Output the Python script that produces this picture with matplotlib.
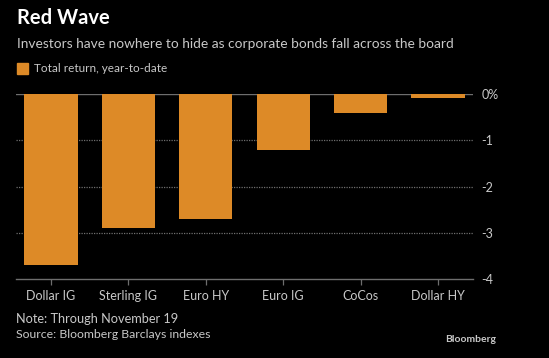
import matplotlib
matplotlib.use("Agg")
import matplotlib.pyplot as plt

categories = ["Dollar IG", "Sterling IG", "Euro HY", "Euro IG", "CoCos", "Dollar HY"]
returns = [-3.69, -2.89, -2.71, -1.22, -0.41, -0.08]
yticks = [0, -1, -2, -3, -4]
ytick_labels = ["0%", "-1", "-2", "-3", "-4"]

BG = "#000000"
BAR = "#DD8A27"
TXT = "#C8C8C8"
GRID = "#6E6E6E"

plt.rcParams['font.family'] = ['Lato', 'DejaVu Sans']

fig = plt.figure(figsize=(5.49, 3.58), dpi=100, facecolor=BG)
W, H = 549, 358
ax = fig.add_axes([16 / W, 1 - 279 / H, (473 - 16) / W, (279 - 94) / H], facecolor=BG)

x = range(len(categories))
ax.bar(x, returns, width=0.69, color=BAR, zorder=3)
ax.set_xlim(-0.45, 5.45)
ax.set_ylim(-4, 0)

for y in [-1, -2, -3]:
    ax.axhline(y, color=GRID, lw=0.9, ls=(0, (1, 1)), zorder=1)
ax.axhline(0, color=GRID, lw=1.0, zorder=2)

for s in ["top", "left", "right"]:
    ax.spines[s].set_visible(False)
ax.spines["bottom"].set_color(GRID)
ax.spines["bottom"].set_linewidth(1.0)

ax.yaxis.tick_right()
ax.set_yticks(yticks)
ax.set_yticklabels(ytick_labels)
ax.tick_params(axis="y", length=0, pad=6, colors=TXT, labelsize=9)
ax.set_xticks(list(x))
ax.set_xticklabels(categories)
ax.tick_params(axis="x", length=4, width=0.9, color=GRID, colors=TXT, labelsize=9, pad=4)
for lab in ax.get_xticklabels():
    lab.set_color(TXT)

fig.text(17 / W, 1 - 18 / H, "Red Wave", color="white", fontsize=14.5, fontweight="bold", va="center", ha="left")
fig.text(17 / W, 1 - 44 / H, "Investors have nowhere to hide as corporate bonds fall across the board",
         color=TXT, fontsize=9.9, va="center", ha="left")
fig.patches.append(plt.Rectangle((17 / W, 1 - 74 / H), 11 / W, 11 / H, transform=fig.transFigure,
                                 color=BAR, figure=fig))
fig.text(34 / W, 1 - 68 / H, "Total return, year-to-date", color=TXT, fontsize=8.5, va="center", ha="left")
fig.text(16 / W, 1 - 319 / H, "Note: Through November 19", color=TXT, fontsize=9.2, va="center", ha="left")
fig.text(16 / W, 1 - 334 / H, "Source: Bloomberg Barclays indexes", color=TXT, fontsize=8.8, va="center", ha="left")
fig.text(496 / W, 1 - 339 / H, "Bloomberg", color=TXT, fontsize=7.5, fontweight="bold", va="center", ha="right")

fig.savefig("out.png", dpi=100, facecolor=BG)
